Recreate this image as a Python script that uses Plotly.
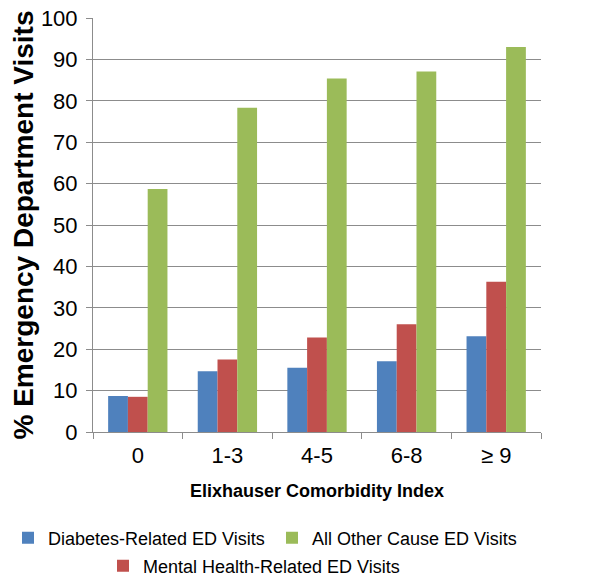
import plotly.graph_objects as go

categories = ["0", "1-3", "4-5", "6-8", "≥ 9"]
diabetes = [8.7, 14.7, 15.5, 17.1, 23.1]
mental = [8.5, 17.5, 22.8, 26.0, 36.3]
other = [58.7, 78.3, 85.4, 87.1, 93.0]
y_ticks = [0, 10, 20, 30, 40, 50, 60, 70, 80, 90, 100]

FONT = "Liberation Sans, Arial, sans-serif"

# page has an 8px body margin; work in page pixels and convert
OFF = 8
W, H = 601 - OFF, 584 - OFF
L, T = 93 - OFF, 18 - OFF
R = 601 - 541
B = 584 - 432
PW = W - L - R
PH = H - T - B

def px_x(page_px):
    return (page_px - OFF - L) / PW

def px_y(page_py):
    return (H - B - (page_py - OFF)) / PH

fig = go.Figure()
fig.add_trace(go.Bar(x=categories, y=diabetes, name="Diabetes-Related ED Visits",
                     marker=dict(color="#4F81BD", line=dict(width=0)),
                     legend="legend", showlegend=True))
fig.add_trace(go.Bar(x=categories, y=mental, name="Mental Health-Related ED Visits",
                     marker=dict(color="#C0504D", line=dict(width=0)),
                     legend="legend3", showlegend=True))
fig.add_trace(go.Bar(x=categories, y=other, name="All Other Cause ED Visits",
                     marker=dict(color="#9BBB59", line=dict(width=0)),
                     legend="legend2", showlegend=True))

leg_common = dict(orientation="h", font=dict(family=FONT, size=18, color="#000"),
                  bgcolor="rgba(0,0,0,0)", borderwidth=0, itemwidth=30,
                  xanchor="left", yanchor="middle", itemclick=False, itemdoubleclick=False)

fig.update_layout(
    width=W, height=H,
    showlegend=True,
    margin=dict(l=L, r=R, t=T, b=B, autoexpand=False),
    paper_bgcolor="white", plot_bgcolor="white",
    barmode="group", bargap=0.338, bargroupgap=0,
    font=dict(family=FONT, color="#000"),
    xaxis=dict(
        showline=True, linecolor="#8c8c8c", linewidth=1,
        ticks="outside", tickson="boundaries", ticklen=6, tickcolor="#8c8c8c",
        tickfont=dict(size=22, family=FONT, color="#000"),
        ticklabelstandoff=4,
        title=dict(text="<b>Elixhauser Comorbidity Index</b>",
                   font=dict(size=18, family=FONT, color="#000"), standoff=16),
        showgrid=False,
    ),
    yaxis=dict(
        range=[0, 100], tickvals=y_ticks,
        showline=True, linecolor="#8c8c8c", linewidth=1,
        ticks="outside", ticklen=6, tickcolor="#8c8c8c",
        tickfont=dict(size=22, family=FONT, color="#000"),
        ticklabelstandoff=4,
        ticklabeloverflow="allow",
        showgrid=True, gridcolor="#8c8c8c", gridwidth=1,
        zeroline=False,
        title=dict(text="<b>% Emergency Department Visits</b>",
                   font=dict(size=28, family=FONT, color="#000"), standoff=0),
    ),
    legend=dict(x=px_x(OFF), y=px_y(538), **leg_common),
    legend2=dict(x=px_x(272), y=px_y(538), **leg_common),
    legend3=dict(x=px_x(103), y=px_y(566), **leg_common),
)

fig.write_html("out.html")
